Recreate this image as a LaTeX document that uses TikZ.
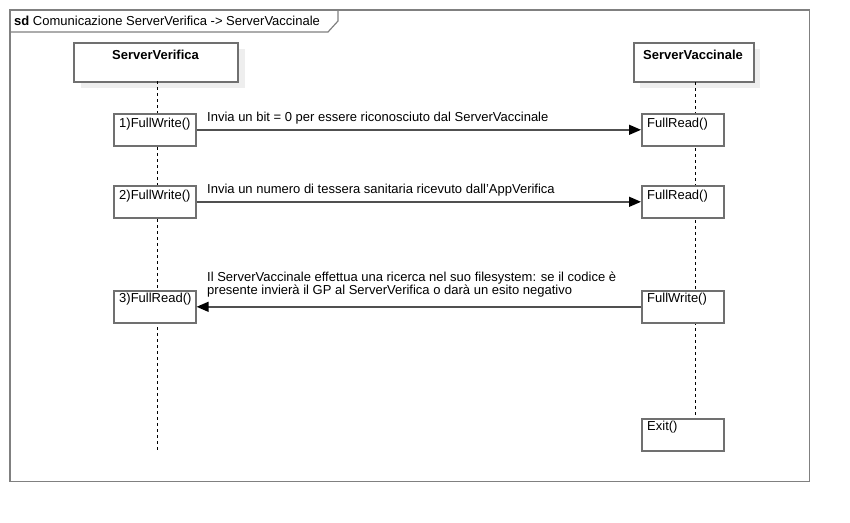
\documentclass[tikz,border=0pt]{standalone}
\usepackage{fontspec}
\setmainfont{Liberation Sans}
\usetikzlibrary{arrows.meta,positioning}
\definecolor{framegray}{HTML}{808080}
\definecolor{boxgray}{HTML}{707070}
\definecolor{shadowgray}{HTML}{EEEEEE}
\definecolor{linegray}{HTML}{505050}
\tikzset{
  headbox/.style={draw=boxgray, line width=1.6pt, fill=white, minimum height=39pt, inner sep=0pt, anchor=north west},
  shadowbox/.style={fill=shadowgray, draw=none, minimum height=39pt, inner sep=0pt, anchor=north west},
  actbox/.style={draw=boxgray, line width=1.6pt, fill=white, minimum width=82pt, minimum height=32pt, inner sep=0pt, anchor=north west},
  acttext/.style={anchor=north west, inner sep=0pt, font=\fontsize{13}{15}\selectfont},
  headtext/.style={inner sep=0pt, font=\fontsize{13}{15}\selectfont\bfseries},
  lifeline/.style={draw=black, line width=0.8pt, dash pattern=on 3pt off 3pt},
  msg/.style={draw=linegray, line width=1.4pt, -{Triangle[length=12pt,width=10pt,color=black,fill=black]}},
  msgtext/.style={anchor=base west, inner sep=0pt, align=left, font=\fontsize{13}{13}\selectfont},
}
\begin{document}
\begin{tikzpicture}[x=1pt,y=-1pt]
\useasboundingbox (0,0) rectangle (850,522);
% frame
\draw[framegray, line width=1.6pt] (10,10) rectangle (809.5,481.5);
\node[inner sep=0pt] (frame) at (410,246) {};
\draw[framegray, line width=1.2pt] (10,32) -- (328,32) -- (338,21) -- (338,10);
\node[anchor=base west, inner sep=0pt, font=\fontsize{13}{15}\selectfont] (ftitle) at (14,25) {\textbf{sd} Comunicazione ServerVerifica -> ServerVaccinale};
% header shadows
\node[shadowbox, minimum width=164pt] (sv) at (81,49) {};
\node[shadowbox, minimum width=120pt] (sc) at (640,49) {};
% headers
\node[headbox, minimum width=164pt] (hv) at (73,42) {};
\node[headbox, minimum width=120pt] (hc) at (633,42) {};
\node[headtext] (hvt) at (155.5,55) {ServerVerifica};
\node[headtext] (hct) at (693,55) {ServerVaccinale};
% lifelines
\coordinate (endv) at (157,450);
\coordinate (endc) at (695,418);
\draw[lifeline] (157,81) -- (endv);
\draw[lifeline] (695,82) -- (endc);
% activation boxes
\node[actbox] (a1) at (113,113) {};
\node[actbox] (a2) at (113,185) {};
\node[actbox] (a3) at (113,290) {};
\node[actbox] (b1) at (641,113) {};
\node[actbox] (b2) at (641,185) {};
\node[actbox] (b3) at (641,290) {};
\node[actbox] (bx) at (641,418) {};
\node[acttext] (a1t) at (119,118) {1)FullWrite()};
\node[acttext] (a2t) at (119,190) {2)FullWrite()};
\node[acttext] (a3t) at (119,293) {3)FullRead()};
\node[acttext] (b1t) at (647,118) {FullRead()};
\node[acttext] (b2t) at (647,190) {FullRead()};
\node[acttext] (b3t) at (647,293) {FullWrite()};
\node[acttext] (bxt) at (647,421) {Exit()};
% messages
\draw[msg] (a1.east) -- (b1.west);
\draw[msg] (a2.east) -- (b2.west);
\draw[msg] (b3.west) -- (a3.east);
\node[msgtext] (m1) at (207,121) {Invia un bit = 0 per essere riconosciuto dal ServerVaccinale};
\node[msgtext] (m2) at (207,193) {Invia un numero di tessera sanitaria ricevuto dall'AppVerifica};
\node[msgtext] (m3) at (207,294) {Il ServerVaccinale effettua una ricerca nel suo filesystem: se il codice è\\presente invierà il GP al ServerVerifica o darà un esito negativo};
\end{tikzpicture}
\end{document}
